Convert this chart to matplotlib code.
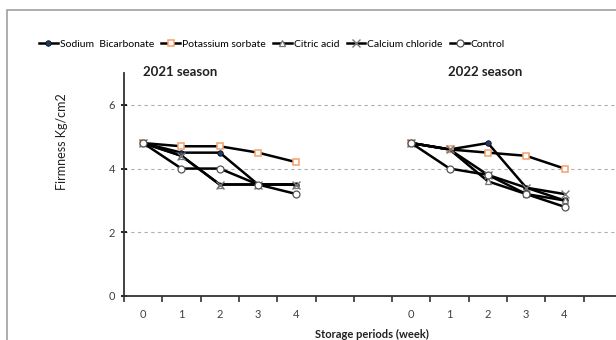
import numpy as np
import matplotlib as mpl
mpl.use('AGG')
import matplotlib.pyplot as plt
from matplotlib.patches import Rectangle

mpl.rcParams['font.family'] = ['Lato', 'DejaVu Sans']

# categories along the single x axis: two seasons separated by blanks
cat_labels = ['0', '1', '2', '3', '4', '', '', '0', '1', '2', '3', '4', '']
nan = np.nan

sodium    = [4.8, 4.5, 4.5, 3.5, 3.5, nan, nan, 4.8, 4.6, 4.8, 3.4, 3.0, nan]
potassium = [4.8, 4.7, 4.7, 4.5, 4.2, nan, nan, 4.8, 4.6, 4.5, 4.4, 4.0, nan]
citric    = [4.8, 4.4, 3.5, 3.5, 3.5, nan, nan, 4.8, 4.6, 3.6, 3.2, 3.0, nan]
calcium   = [4.8, 4.4, 3.5, 3.5, 3.5, nan, nan, 4.8, 4.6, 3.8, 3.4, 3.2, nan]
control   = [4.8, 4.0, 4.0, 3.5, 3.2, nan, nan, 4.8, 4.0, 3.8, 3.2, 2.8, nan]

fig = plt.figure(figsize=(6.16, 3.4), dpi=100)
W, H = 616.0, 340.0
ax = fig.add_axes([124 / W, 1 - 296 / H, (622 - 124) / W, (296 - 73) / H])

# outer chart frame
fig.patches.append(Rectangle((7 / W, -0.1), 1.2, 1 - 10 / H + 0.1, transform=fig.transFigure,
                             fill=False, edgecolor='#a0a0a0', linewidth=1.2))

x = np.arange(len(cat_labels))
lw = 1.8
l_sod, = ax.plot(x, sodium, color='black', lw=lw, marker='o', ms=4, mfc='#1f3a6b', mec='black', mew=0.5,
                 label='Sodium  Bicarbonate', zorder=2)
l_cit, = ax.plot(x, citric, color='black', lw=lw, marker='^', ms=5, mfc='white', mec='#777777', mew=0.9,
                 label='Citric acid', zorder=2.5)
l_pot, = ax.plot(x, potassium, color='black', lw=lw, marker='s', ms=5, mfc='white', mec='#f4a06a', mew=1.1,
                 label='Potassium sorbate', zorder=3)
l_cal, = ax.plot(x, calcium, color='black', lw=lw, marker='x', ms=6, mec='#777777', mew=1.0,
                 label='Calcium chloride', zorder=3)
l_con, = ax.plot(x, control, color='black', lw=lw, marker='o', ms=5, mfc='white', mec='#555555', mew=0.9,
                 label='Control', zorder=3)

ax.set_xlim(-0.5, len(cat_labels) - 0.5)
ax.set_ylim(0, 7)
ax.set_yticks([0, 2, 4, 6])
ax.set_xticks(x)
ax.set_xticklabels(cat_labels)
ax.set_xticks(np.arange(-0.5, len(cat_labels), 1), minor=True)
ax.tick_params(axis='x', which='major', length=0, pad=9, labelsize=8, labelcolor='#404040')
ax.tick_params(axis='x', which='minor', length=4, width=1.2, direction='out', color='#333333')
ax.tick_params(axis='y', length=5, width=1.2, direction='inout', labelsize=8, labelcolor='#404040', pad=4)
ax.grid(axis='y', linestyle=(0, (3, 3)), color='#b0b0b0', lw=0.8)
ax.set_axisbelow(True)
for s in ['top', 'right']:
    ax.spines[s].set_visible(False)
for s in ['left', 'bottom']:
    ax.spines[s].set_color('#333333')
    ax.spines[s].set_linewidth(1.3)

fig.text(62 / W, 1 - 142 / H, 'Firmness Kg/cm2', rotation=90, ha='center', va='center',
         fontsize=9, color='#202020')
fig.text(180 / W, 1 - 72 / H, '2021 season', ha='center', va='center', fontsize=9.5,
         fontweight='bold', color='#202020')
fig.text(485 / W, 1 - 72 / H, '2022 season', ha='center', va='center', fontsize=9.5,
         fontweight='bold', color='#202020')
fig.text(372 / W, 1 - 334 / H, 'Storage periods (week)', ha='center', va='center', fontsize=8,
         fontweight='bold', color='#202020')

fig.legend([l_sod, l_pot, l_cit, l_cal, l_con],
           ['Sodium  Bicarbonate', 'Potassium sorbate', 'Citric acid', 'Calcium chloride', 'Control'],
           loc='center', bbox_to_anchor=(272 / W, 1 - 44 / H), ncol=5, frameon=False, fontsize=7.5,
           handlelength=1.8, handletextpad=0.2, columnspacing=0.7)

fig.savefig('out.png', dpi=100)
